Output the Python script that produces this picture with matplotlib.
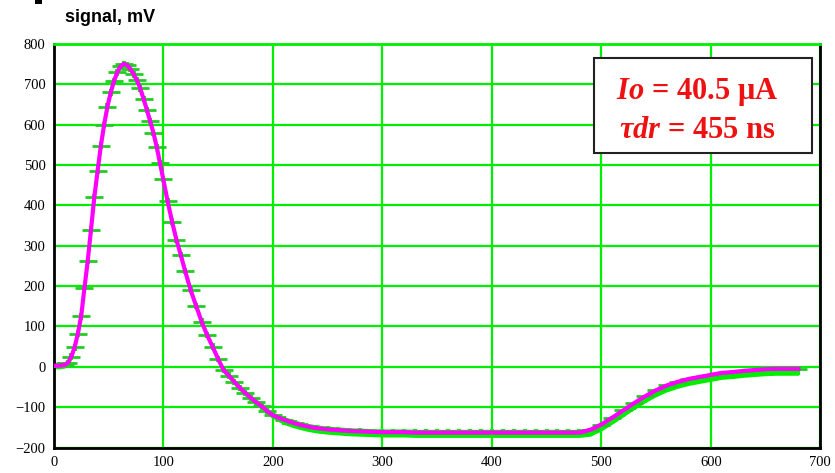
import matplotlib
matplotlib.use("Agg")
import matplotlib.pyplot as plt
import numpy as np
from matplotlib.patches import Rectangle

# ---- data ----
time_ns = [0, 5, 10, 13, 16, 19, 22, 25, 28, 31, 34, 37, 40, 43, 46, 49, 52, 55,
           58, 61, 64, 67, 70, 73, 76, 79, 82, 85, 88, 91, 94, 97, 100, 104, 108,
           112, 116, 120, 125, 130, 135, 140, 145, 150, 155, 160, 165, 170, 175,
           180, 185, 190, 195, 200, 210, 220, 230, 240, 250, 260, 270, 280, 290,
           300, 310, 320, 330, 340, 350, 360, 370, 380, 390, 400, 410, 420, 430,
           440, 450, 460, 470, 480, 490, 500, 510, 520, 530, 540, 550, 560, 570,
           580, 590, 600, 610, 620, 630, 640, 650, 660, 670, 680]
signal_mv = [3, 3, 5, 10, 25, 48, 82, 125, 195, 262, 340, 420, 485, 548, 600, 645,
             680, 708, 730, 745, 751, 748, 738, 725, 710, 690, 664, 637, 609, 580,
             545, 505, 465, 410, 360, 315, 277, 237, 190, 151, 112, 79, 50, 20, -8,
             -22, -38, -52, -65, -77, -88, -98, -110, -120, -131, -140, -147, -152,
             -155, -157, -159, -160, -161, -162, -162, -162, -163, -163, -163, -163,
             -163, -163, -163, -163, -163, -163, -163, -163, -163, -163, -163, -163,
             -156, -143, -126, -108, -90, -73, -58, -46, -37, -30, -25, -20, -15,
             -13, -10, -8, -6, -5, -5, -5]
err_low = [8] * 54 + [12] * 28 + [16] * 20
err_high = [8] * 54 + [8] * 28 + [4] * 20

x_ticks = [0, 100, 200, 300, 400, 500, 600, 700]
y_ticks = [-200, -100, 0, 100, 200, 300, 400, 500, 600, 700, 800]
y_labels = ["\u2212200", "\u2212100", "0", "100", "200", "300", "400", "500",
            "600", "700", "800"]

GREEN = "#00ee00"
MAGENTA = "#ff00ff"

plt.rcParams["mathtext.fontset"] = "custom"
plt.rcParams["mathtext.it"] = "Liberation Serif:italic:bold"
plt.rcParams["mathtext.rm"] = "Liberation Serif:bold"

fig = plt.figure(figsize=(8.35, 4.73), dpi=100)
ax = fig.add_axes([0.0644, 0.0539, 0.918, 0.853])

ax.set_xlim(0, 700)
ax.set_ylim(-200, 800)
ax.set_xticks(x_ticks)
ax.set_yticks(y_ticks)
ax.set_yticklabels(y_labels)
ax.tick_params(length=0, pad=6, labelsize=10.5)
for lab in ax.get_xticklabels() + ax.get_yticklabels():
    lab.set_fontfamily("Liberation Serif")
ax.grid(True, color=GREEN, linewidth=1.6)
ax.set_axisbelow(True)

for side in ["left", "bottom", "right"]:
    ax.spines[side].set_color("black")
    ax.spines[side].set_linewidth(2)
ax.spines["top"].set_color(GREEN)
ax.spines["top"].set_linewidth(2)

# measured points with error bars (green)
sig = np.array(signal_mv, dtype=float)
ax.fill_between(time_ns, sig - np.array(err_low), sig + np.array(err_high),
                color=GREEN, linewidth=0, zorder=2)
ax.errorbar(time_ns, signal_mv, yerr=[err_low, err_high], fmt="none",
            ecolor=GREEN, elinewidth=3, capsize=0, zorder=2)
ax.plot(time_ns, signal_mv, linestyle="none", marker="_", markersize=13,
        markeredgewidth=2, color="#22cc22", zorder=3)
# fit curve (magenta)
ax.plot(time_ns, signal_mv, color=MAGENTA, linewidth=3, zorder=4)

# annotation box
fig.patches.append(Rectangle((594 / 835, 1 - 153.5 / 473), (812 - 594) / 835,
                             (153.5 - 58) / 473, transform=fig.transFigure,
                             facecolor="white", edgecolor="#222222",
                             linewidth=1.5, zorder=5))
fig.text(0.8346, 1 - 92 / 473, r"$Io$ = 40.5 μA", color="#ee1111",
         fontfamily="Liberation Serif", fontweight="bold", fontsize=22,
         ha="center", va="center", zorder=6)
fig.text(0.8346, 1 - 130 / 473, r"$\tau dr$ = 455 ns", color="#ee1111",
         fontfamily="Liberation Serif", fontweight="bold", fontsize=22,
         ha="center", va="center", zorder=6)

# title
fig.text(65 / 835, 1 - 17 / 473, "signal, mV", fontfamily="Liberation Sans",
         fontweight="bold", fontsize=13, ha="left", va="center")

# small dark mark in top-left corner
fig.patches.append(Rectangle((35 / 835, 1 - 4 / 473), 7 / 835, 4 / 473,
                             transform=fig.transFigure, facecolor="black",
                             edgecolor="none"))

fig.savefig("out.png", dpi=100)
